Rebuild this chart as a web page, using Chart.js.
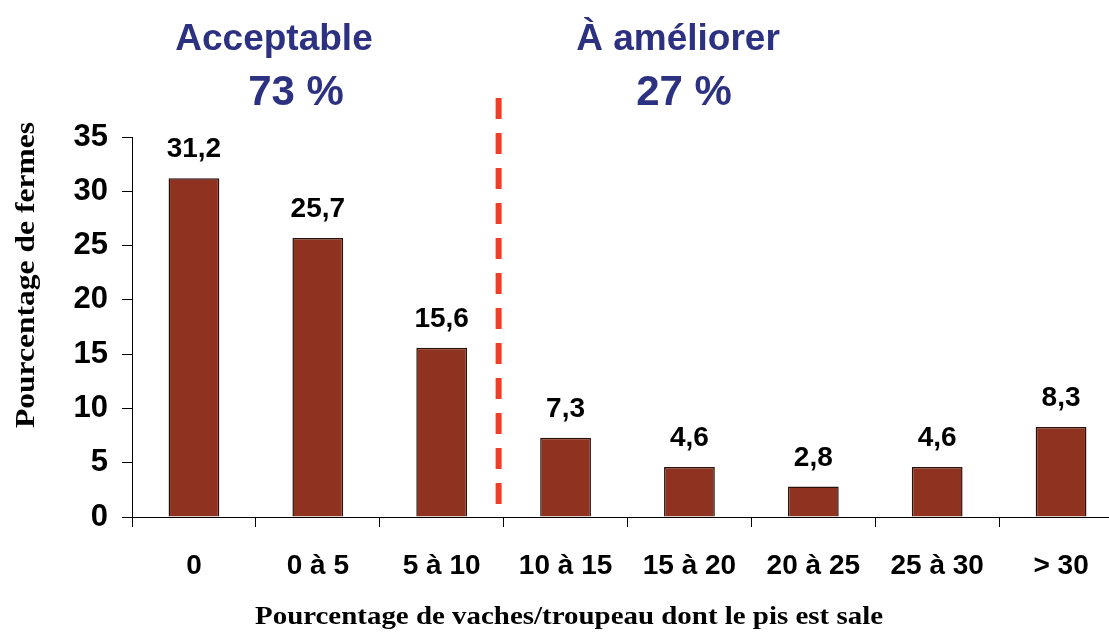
<!DOCTYPE html>
<html lang="fr">
<head>
<meta charset="utf-8">
<title>Pourcentage de fermes selon la propreté du pis</title>
<script src="https://cdn.jsdelivr.net/npm/chart.js@4.4.1/dist/chart.umd.min.js"></script>
<style>
  html, body { margin: 0; padding: 0; background: #ffffff; overflow: hidden; }
  #wrap { position: relative; width: 1123px; height: 632px; }
</style>
</head>
<body>
<div id="wrap"><canvas id="chart"></canvas></div>
<script>
// Classes de pourcentage de vaches au pis sale, par troupeau
const categories = ['0', '0 à 5', '5 à 10', '10 à 15', '15 à 20', '20 à 25', '25 à 30', '> 30'];
// Pourcentage de fermes dans chaque classe
const farmShares = [31.2, 25.7, 15.6, 7.3, 4.6, 2.8, 4.6, 8.3];
// Graduations de l'axe vertical
const yTicks = [0, 5, 10, 15, 20, 25, 30, 35];
// Bandeaux au-dessus du graphique
const groupNames = ['Acceptable', 'À améliorer'];
const groupShares = ['73 %', '27 %'];
const yTitle = 'Pourcentage de fermes';
const xTitle = 'Pourcentage de vaches/troupeau dont le pis est sale';

const SANS = '"Liberation Sans", Arial, sans-serif';
const SERIF = '"Liberation Serif", "Times New Roman", serif';
const NAVY = '#2c3181';

const fmt = v => v.toFixed(1).replace('.', ',');

// Texte élargi horizontalement pour occuper une largeur donnée
function drawWideText(ctx, text, cx, cy, font, width) {
  ctx.save();
  ctx.font = font;
  const w = ctx.measureText(text).width;
  ctx.translate(cx, cy);
  ctx.scale(width / w, 1);
  ctx.textAlign = 'center';
  ctx.fillText(text, 0, 0);
  ctx.restore();
}

// Étiquettes de valeur, ligne de séparation et titres
const annotations = {
  id: 'annotations',
  afterDatasetsDraw(chart) {
    const { ctx, chartArea, scales } = chart;
    const meta = chart.getDatasetMeta(0);
    ctx.save();

    // valeurs au-dessus des barres
    ctx.fillStyle = '#000';
    ctx.font = 'bold 28px ' + SANS;
    ctx.textAlign = 'center';
    ctx.textBaseline = 'alphabetic';
    meta.data.forEach((bar, i) => {
      ctx.fillText(fmt(farmShares[i]), bar.x, bar.y - 21);
    });

    // ligne pointillée entre « 5 à 10 » et « 10 à 15 »
    const xs = scales.x;
    const sepX = (xs.getPixelForValue(2) + xs.getPixelForValue(3)) / 2 - 5;
    ctx.strokeStyle = '#ee3e2a';
    ctx.lineWidth = 6;
    ctx.setLineDash([21, 14]);
    ctx.beginPath();
    ctx.moveTo(sepX, chartArea.top - 39);
    ctx.lineTo(sepX, chartArea.bottom - 13);
    ctx.stroke();
    ctx.setLineDash([]);

    // titres des deux groupes
    ctx.fillStyle = NAVY;
    ctx.textAlign = 'center';
    const nameX = [274, 678];
    const shareX = [296, 684];
    groupNames.forEach((name, i) => {
      ctx.font = 'bold 37px ' + SANS;
      ctx.fillText(name, nameX[i], 50);
      ctx.font = 'bold 42px ' + SANS;
      ctx.fillText(groupShares[i], shareX[i], 105);
    });

    // titre de l'axe horizontal
    ctx.fillStyle = '#000';
    drawWideText(ctx, xTitle, 569, 624, 'bold 26px ' + SERIF, 628);

    // titre de l'axe vertical
    ctx.translate(34, 275);
    ctx.rotate(-Math.PI / 2);
    drawWideText(ctx, yTitle, 0, 0, 'bold 27px ' + SERIF, 306);
    ctx.restore();
  }
};

new Chart(document.getElementById('chart'), {
  type: 'bar',
  data: {
    labels: categories,
    datasets: [{
      data: farmShares,
      backgroundColor: '#8f3320',
      borderColor: '#2a120a',
      borderWidth: 1.5,
      barPercentage: 0.41,
      categoryPercentage: 1
    }]
  },
  options: {
    responsive: true,
    maintainAspectRatio: false,
    animation: false,
    layout: { padding: { top: 137, left: 0, right: 0, bottom: 0 } },
    plugins: { legend: { display: false }, tooltip: { enabled: false } },
    scales: {
      y: {
        min: 0,
        max: 35,
        afterBuildTicks(scale) { scale.ticks = yTicks.map(v => ({ value: v })); },
        afterFit(scale) { scale.width = 132; },
        ticks: {
          color: '#000',
          font: { family: SANS, size: 31, weight: 'bold' },
          padding: 14
        },
        grid: { drawOnChartArea: false, tickLength: 10, color: '#000', lineWidth: 1 },
        border: { display: true, color: '#000', width: 1 }
      },
      x: {
        afterFit(scale) { scale.height = 115; },
        ticks: {
          color: '#000',
          font: { family: SANS, size: 28, weight: 'bold' },
          padding: 22,
          maxRotation: 0,
          autoSkip: false
        },
        grid: { drawOnChartArea: false, tickLength: 10, color: '#000', lineWidth: 1, offset: true },
        border: { display: true, color: '#000', width: 1 }
      }
    }
  },
  plugins: [annotations]
});
</script>
</body>
</html>
